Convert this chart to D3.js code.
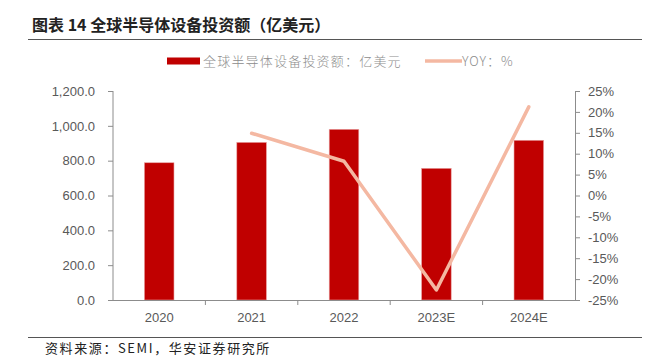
<!DOCTYPE html>
<html><head><meta charset="utf-8">
<script src="https://cdn.jsdelivr.net/npm/d3@7"></script>
<style>body{margin:0;background:#fff}svg{display:block}</style>
</head><body><svg id="c" width="656" height="361"></svg>
<script>
const categories = ["2020","2021","2022","2023E","2024E"];
const investment = [788, 905, 980, 756, 917];
const yoyCats = ["2021","2022","2023E","2024E"];
const yoy = [14.9, 8.2, -22.6, 21.2];
const leftTicks = [0,200,400,600,800,1000,1200];
const rightTicks = [-25,-20,-15,-10,-5,0,5,10,15,20,25];
const titleText = "图表 14 全球半导体设备投资额（亿美元）";
const legendBar = "全球半导体设备投资额：亿美元";
const legendLine = "YOY：%";
const sourceText = "资料来源：SEMI，华安证券研究所";

const svg = d3.select("#c");
const L = 113, R = 575, T = 91, B = 300;
const x = d3.scaleBand().domain(categories).range([L, R]).paddingInner(0.68).paddingOuter(0.34);
const xb = d3.scaleBand().domain(categories).range([L, R]);
const y = d3.scaleLinear().domain([0,1200]).range([B, T]);
const y2 = d3.scaleLinear().domain([-25,25]).range([B, T]);
const gray = "#8c8c8c";
const cjk = "'Noto Sans CJK SC', sans-serif";

svg.append("text").attr("x", 32).attr("y", 31).text(titleText)
  .attr("font-family", cjk).attr("font-weight", "bold").attr("font-size", 16).attr("fill", "#222");
svg.append("line").attr("x1", 28).attr("x2", 642).attr("y1", 39.5).attr("y2", 39.5).attr("stroke", "#555").attr("stroke-width", 1);
svg.append("line").attr("x1", 28).attr("x2", 642).attr("y1", 337.5).attr("y2", 337.5).attr("stroke", "#555").attr("stroke-width", 1);
svg.append("text").attr("x", 45).attr("y", 353).text(sourceText)
  .attr("font-family", cjk).attr("font-size", 13).attr("letter-spacing", 1.6).attr("fill", "#222");

// legend
svg.append("rect").attr("x", 167).attr("y", 57.5).attr("width", 33).attr("height", 7).attr("fill", "#C00000");
svg.append("text").attr("x", 203).attr("y", 66).text(legendBar).attr("font-family", cjk).attr("font-size", 13).attr("letter-spacing", 1.2).attr("fill", gray).attr("font-weight", 300);
svg.append("line").attr("x1", 425).attr("x2", 462).attr("y1", 61).attr("y2", 61).attr("stroke", "#F4B8A2").attr("stroke-width", 3.5);
svg.append("text").attr("x", 462).attr("y", 66).text(legendLine).attr("font-family", cjk).attr("font-size", 13).attr("letter-spacing", 1).attr("fill", gray).attr("font-weight", 300);

// bars
svg.append("g").selectAll("rect").data(categories).join("rect")
  .attr("x", d => x(d)).attr("width", x.bandwidth())
  .attr("y", (d,i) => y(investment[i])).attr("height", (d,i) => B - y(investment[i]))
  .attr("fill", "#C00000").attr("stroke", "#E8A0A0").attr("stroke-width", 0.6);

// axes
const axFont = "'Liberation Sans', Arial, sans-serif";
const gl = svg.append("g").attr("transform", `translate(${L},0)`)
  .call(d3.axisLeft(y).tickValues(leftTicks).tickSize(5).tickPadding(13).tickFormat(d3.format(",.1f")));
const gr = svg.append("g").attr("transform", `translate(${R},0)`)
  .call(d3.axisRight(y2).tickValues(rightTicks).tickSize(5).tickPadding(8).tickFormat(d => d + "%"));
const gx = svg.append("g").attr("transform", `translate(0,${B})`)
  .call(d3.axisBottom(xb).tickSize(0).tickPadding(13));
gx.select(".domain").attr("d", `M${L},0.5H${R}`);
gx.append("g").selectAll("line").data(categories.slice(1)).join("line")
  .attr("x1", d => xb(d)).attr("x2", d => xb(d)).attr("y1", 0).attr("y2", 5).attr("stroke", gray);
[gl, gr, gx].forEach(g => {
  g.selectAll(".domain").attr("stroke", gray);
  g.selectAll(".tick line").attr("stroke", gray);
  g.selectAll("text").attr("font-family", axFont).attr("font-size", 13).attr("fill", "#595959");
});
gl.select(".domain").attr("d", `M-0.5,${T}V${B+0.5}`).attr("transform","translate(0.5,0)");
gr.select(".domain").attr("d", `M0.5,${T}V${B+0.5}`);

// line
const line = d3.line().x((d,i) => xb(yoyCats[i]) + xb.bandwidth()/2).y(d => y2(d));
svg.append("path").datum(yoy).attr("d", line).attr("fill", "none")
  .attr("stroke", "#F4B8A2").attr("stroke-width", 3.5).attr("stroke-linejoin", "round").attr("stroke-linecap", "round");
</script></body></html>
